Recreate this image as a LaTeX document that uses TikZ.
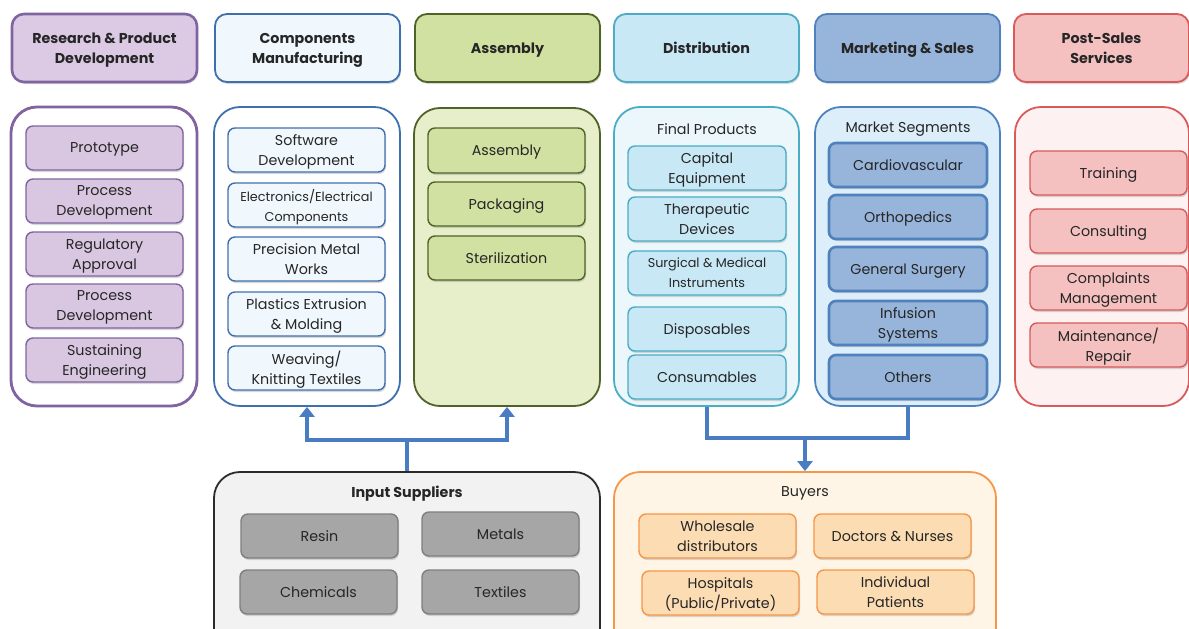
\documentclass[tikz,border=0pt]{standalone}
\usepackage{fontspec}
\setmainfont{Poppins}
\usetikzlibrary{arrows.meta,shadows}
\definecolor{txt}{HTML}{262626}
\definecolor{pB}{HTML}{8064A2}\definecolor{pF}{HTML}{DCCAE4}\definecolor{pI}{HTML}{D9C7E1}
\definecolor{cB}{HTML}{3F70AE}\definecolor{cF}{HTML}{F1F8FD}
\definecolor{gB}{HTML}{4F6228}\definecolor{gF}{HTML}{D1E1A1}\definecolor{gC}{HTML}{E6EFCA}
\definecolor{dB}{HTML}{4BACC6}\definecolor{dF}{HTML}{C8E8F5}\definecolor{dC}{HTML}{ECF7FC}
\definecolor{mB}{HTML}{4F81BD}\definecolor{mF}{HTML}{97B5DB}\definecolor{mC}{HTML}{DCEEF9}
\definecolor{rB}{HTML}{D95A5A}\definecolor{rF}{HTML}{F5C0C0}\definecolor{rC}{HTML}{FDF1F1}
\definecolor{sB}{HTML}{2B2B2B}\definecolor{sF}{HTML}{F2F2F2}\definecolor{sI}{HTML}{A6A6A6}\definecolor{sIB}{HTML}{7F7F7F}
\definecolor{oB}{HTML}{F79646}\definecolor{oF}{HTML}{FEF5E7}\definecolor{oI}{HTML}{FCDDB3}
\definecolor{arr}{HTML}{4A7CC4}
\newcommand{\hfnt}{\fontsize{14.3}{20}\selectfont\bfseries}
\newcommand{\nfnt}{\fontsize{14.3}{20}\selectfont}
\newcommand{\smfnt}{\fontsize{12.8}{20}\selectfont}
\newcommand{\bx}[7]{\node[#1, minimum width={(#5)-(#3)}, minimum height={(#6)-(#4)}] (#2) at ({((#3)+(#5))/2},{((#4)+(#6))/2}) {#7};}
\tikzset{
 shd/.style={drop shadow={opacity=0.3, shadow xshift=1pt, shadow yshift=-2pt}},
 hdr/.style={shd, rounded corners=12pt, align=center, text=txt, font=\hfnt, line width=1.8pt, inner sep=1pt, text depth=0pt},
 con/.style={rounded corners=26pt, line width=1.8pt},
 inn/.style={shd, rounded corners=7pt, align=center, text=txt, font=\nfnt, line width=1.4pt, inner sep=1pt, text depth=0pt},
 ttl/.style={text=txt, font=\nfnt},
 flow/.style={draw=arr, line width=4pt},
 tip/.style={-{Triangle[width=15pt,length=10pt]}}
}
\begin{document}
\begin{tikzpicture}[x=1pt,y=-1pt]
\clip (0,0) rectangle (1189,629);
\fill[white] (0,0) rectangle (1189,629);
% headers
\bx{hdr,draw=pB,fill=pF,line width=2.6pt}{h1}{12}{14}{197}{82}{Research \& Product\\Development}
\bx{hdr,draw=cB,fill=cF}{h2}{215}{14}{400}{82}{Components\\Manufacturing}
\bx{hdr,draw=gB,fill=gF}{h3}{415}{14}{600}{82}{Assembly}
\bx{hdr,draw=dB,fill=dF}{h4}{614}{14}{799}{82}{Distribution}
\bx{hdr,draw=mB,fill=mF}{h5}{815}{14}{1000}{82}{Marketing \& Sales}
\bx{hdr,draw=rB,fill=rF}{h6}{1014}{14}{1189}{82}{Post-Sales\\Services}
% containers
\bx{con,draw=pB,fill=white,line width=2.8pt}{cP}{11}{107}{197}{406}{}
\bx{con,draw=cB,fill=white}{cC}{214}{107}{400}{406}{}
\bx{con,draw=gB,fill=gC}{cG}{414}{108}{600}{406}{}
\bx{con,draw=dB,fill=dC}{cD}{614}{107}{799}{406}{}
\bx{con,draw=mB,fill=mC}{cM}{815}{107}{1000}{406}{}
\bx{con,draw=rB,fill=rC}{cR}{1015}{107}{1189}{406}{}
% R&PD
\bx{inn,draw=pB,fill=pI}{p1}{26}{126}{183}{170}{Prototype}
\bx{inn,draw=pB,fill=pI}{p2}{26}{179}{183}{223}{Process\\Development}
\bx{inn,draw=pB,fill=pI}{p3}{26}{232}{183}{276}{Regulatory\\Approval}
\bx{inn,draw=pB,fill=pI}{p4}{26}{284}{183}{328}{Process\\Development}
\bx{inn,draw=pB,fill=pI}{p5}{26}{338}{183}{382}{Sustaining\\Engineering}
% Components
\bx{inn,draw=cB,fill=cF}{c1}{228}{128}{385}{172}{Software\\Development}
\bx{inn,draw=cB,fill=cF,font=\smfnt}{c2}{228}{183}{385}{227}{Electronics/Electrical\\Components}
\bx{inn,draw=cB,fill=cF}{c3}{228}{237}{385}{281}{Precision Metal\\Works}
\bx{inn,draw=cB,fill=cF}{c4}{228}{292}{385}{336}{Plastics Extrusion\\\& Molding}
\bx{inn,draw=cB,fill=cF}{c5}{228}{346}{385}{390}{Weaving/\\Knitting Textiles}
% Assembly
\bx{inn,draw=gB,fill=gF}{g1}{428}{128}{585}{173}{Assembly}
\bx{inn,draw=gB,fill=gF}{g2}{428}{182}{585}{226}{Packaging}
\bx{inn,draw=gB,fill=gF}{g3}{428}{236}{585}{280}{Sterilization}
% Distribution
\node[ttl] (fp) at (707,129) {Final Products};
\bx{inn,draw=dB,fill=dF}{d1}{628}{146}{786}{190}{Capital\\Equipment}
\bx{inn,draw=dB,fill=dF}{d2}{628}{197}{786}{241}{Therapeutic\\Devices}
\bx{inn,draw=dB,fill=dF,font=\smfnt}{d3}{628}{251}{786}{295}{Surgical \& Medical\\Instruments}
\bx{inn,draw=dB,fill=dF}{d4}{628}{307}{786}{351}{Disposables}
\bx{inn,draw=dB,fill=dF}{d5}{628}{355}{786}{399}{Consumables}
% Marketing
\node[ttl] (ms) at (908,129) {Market Segments};
\bx{inn,draw=mB,fill=mF,line width=2.6pt}{m1}{829}{143}{987}{187}{Cardiovascular}
\bx{inn,draw=mB,fill=mF,line width=2.6pt}{m2}{829}{195}{987}{239}{Orthopedics}
\bx{inn,draw=mB,fill=mF,line width=2.6pt}{m3}{829}{247}{987}{291}{General Surgery}
\bx{inn,draw=mB,fill=mF,line width=2.6pt}{m4}{829}{301}{987}{345}{Infusion\\Systems}
\bx{inn,draw=mB,fill=mF,line width=2.6pt}{m5}{829}{355}{987}{399}{Others}
% Post-sales
\bx{inn,draw=rB,fill=rF}{r1}{1030}{151}{1187}{195}{Training}
\bx{inn,draw=rB,fill=rF}{r2}{1030}{209}{1187}{253}{Consulting}
\bx{inn,draw=rB,fill=rF}{r3}{1030}{266}{1187}{310}{Complaints\\Management}
\bx{inn,draw=rB,fill=rF}{r4}{1030}{323}{1187}{367}{Maintenance/\\Repair}
% Input suppliers
\bx{con,draw=sB,fill=sF}{ins}{214}{472}{600}{660}{}
\node[ttl,font=\nfnt\bfseries] (inst) at (407,494) {Input Suppliers};
\bx{inn,draw=sIB,fill=sI}{s1}{241}{514}{398}{558}{Resin}
\bx{inn,draw=sIB,fill=sI}{s2}{422}{512}{579}{556}{Metals}
\bx{inn,draw=sIB,fill=sI}{s3}{240}{570}{397}{614}{Chemicals}
\bx{inn,draw=sIB,fill=sI}{s4}{422}{570}{579}{614}{Textiles}
% Buyers
\bx{con,draw=oB,fill=oF}{buy}{614}{472}{996}{660}{}
\node[ttl] (buyt) at (805,493) {Buyers};
\bx{inn,draw=oB,fill=oI}{b1}{639}{514}{796}{558}{Wholesale\\distributors}
\bx{inn,draw=oB,fill=oI}{b2}{814}{514}{971}{558}{Doctors \& Nurses}
\bx{inn,draw=oB,fill=oI}{b3}{642}{571}{799}{615}{Hospitals\\(Public/Private)}
\bx{inn,draw=oB,fill=oI}{b4}{817}{570}{974}{614}{Individual\\Patients}
% connectors
\coordinate (j1) at (407,440);
\coordinate (j2) at (805,438);
\draw[flow] (ins.north) -- (j1);
\draw[flow,tip] (j1) -| (cC.south);
\draw[flow,tip] (j1) -| (cG.south);
\draw[flow] (cD.south) |- (j2) -| (cM.south);
\draw[flow,tip] (j2) -- (buy.north);
\end{tikzpicture}
\end{document}
